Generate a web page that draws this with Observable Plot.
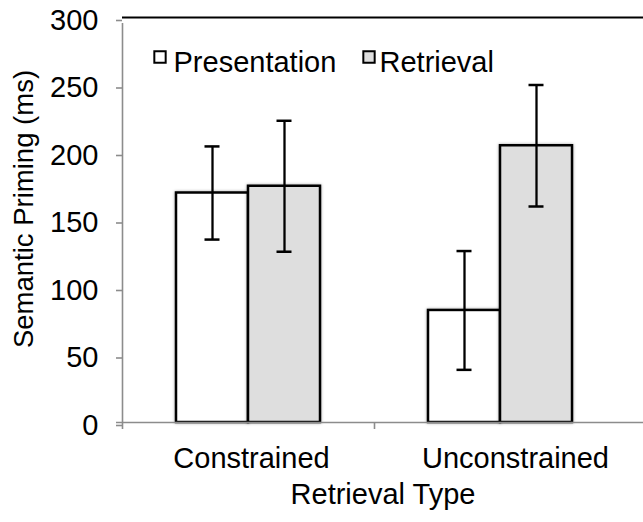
<!DOCTYPE html>
<html>
<head>
<meta charset="utf-8">
<script src="https://cdn.jsdelivr.net/npm/d3@7"></script>
<script src="https://cdn.jsdelivr.net/npm/@observablehq/plot@0.6"></script>
<style>
  html, body { margin: 0; padding: 0; background: #fff; }
  #chart svg { display: block; }
  .bars rect { filter: drop-shadow(0px 0px 1.5px rgba(0,0,0,0.35)); }
</style>
</head>
<body>
<div id="chart"></div>
<script>
// ---- data ----
const categories = ["Constrained", "Unconstrained"];
const series = ["Presentation", "Retrieval"];
const presentationMeans = [170, 83];
const retrievalMeans = [175, 205];
const presentationErr = [34.5, 44];
const retrievalErr = [48.5, 45];
const yTicks = [0, 50, 100, 150, 200, 250, 300];
const xTitle = "Retrieval Type";
const yTitle = "Semantic Priming (ms)";

const rows = [];
categories.forEach((c, i) => {
  rows.push({category: c, series: series[0], value: presentationMeans[i], err: presentationErr[i]});
  rows.push({category: c, series: series[1], value: retrievalMeans[i], err: retrievalErr[i]});
});
const pres = rows.filter(d => d.series === series[0]);
const retr = rows.filter(d => d.series === series[1]);

// ---- layout ----
const W = 643, H = 522;
const mL = 122, mT = 17, mB = 100;
const band = 252;           // category band width (px)
const barW = 72;
const outer = (band - 2 * barW) / 2;
const capW = 15;
const gray = "#8c8c8c";
const font = "Liberation Sans, Arial, Helvetica, sans-serif";
const fs = 29;

const capIn = (center) => ({insetLeft: center - capW / 2, insetRight: band - center - capW / 2});
const presCenter = outer + barW / 2, retrCenter = outer + barW * 1.5;

const chart = Plot.plot({
  width: W, height: H,
  marginLeft: mL, marginRight: 0, marginTop: mT, marginBottom: mB,
  style: {fontFamily: font, fontSize: fs + "px", color: "black", background: "white"},
  x: {type: "band", domain: categories, range: [mL, mL + band * categories.length], padding: 0},
  y: {domain: [0, 300]},
  color: {domain: series, range: ["white", "#dedede"]},
  marks: [
    // bars
    Plot.barY(pres, {x: "category", y: "value", fill: d => d.series, stroke: "black", strokeWidth: 2.5,
      insetLeft: outer, insetRight: band - outer - barW, className: "bars"}),
    Plot.barY(retr, {x: "category", y: "value", fill: d => d.series, stroke: "black", strokeWidth: 2.5,
      insetLeft: outer + barW, insetRight: outer, className: "bars"}),
    // error bars
    Plot.ruleX(pres, {x: "category", y1: d => d.value - d.err, y2: d => d.value + d.err, dx: presCenter - band / 2, stroke: "black", strokeWidth: 2.3}),
    Plot.ruleX(retr, {x: "category", y1: d => d.value - d.err, y2: d => d.value + d.err, dx: retrCenter - band / 2, stroke: "black", strokeWidth: 2.3}),
    Plot.tickY(pres, {x: "category", y: d => d.value + d.err, ...capIn(presCenter), stroke: "black", strokeWidth: 2.5}),
    Plot.tickY(pres, {x: "category", y: d => d.value - d.err, ...capIn(presCenter), stroke: "black", strokeWidth: 2.5}),
    Plot.tickY(retr, {x: "category", y: d => d.value + d.err, ...capIn(retrCenter), stroke: "black", strokeWidth: 2.5}),
    Plot.tickY(retr, {x: "category", y: d => d.value - d.err, ...capIn(retrCenter), stroke: "black", strokeWidth: 2.5}),
    // frame lines
    Plot.ruleY([300], {stroke: "black", strokeWidth: 2}),
    Plot.ruleY([0], {stroke: gray, strokeWidth: 1.6, insetLeft: -6}),
    Plot.ruleX([categories[0]], {x: d => d, dx: -band / 2, y1: 0, y2: 300, stroke: gray, strokeWidth: 1.6, insetBottom: -6}),
    // y axis
    Plot.axisY({ticks: yTicks, tickSize: 6, tickPadding: 18, stroke: gray, strokeWidth: 1.6, fill: "black",
      fontSize: fs, dy: 3, label: null}),
    // x axis ticks at band edges
    Plot.axisX({ticks: categories, tickSize: 7, dx: -band / 2, tickFormat: () => "", stroke: gray, strokeWidth: 1.6, label: null}),
    // x category labels
    Plot.text([categories[0]], {x: d => d, frameAnchor: "bottom", lineAnchor: "bottom", dy: 45, dx: 3, fontSize: fs, fill: "black"}),
    Plot.text([categories[1]], {x: d => d, frameAnchor: "bottom", lineAnchor: "bottom", dy: 45, dx: 15, fontSize: fs, fill: "black"}),
    // axis titles
    Plot.text([xTitle], {frameAnchor: "bottom", lineAnchor: "bottom", dy: 81, fontSize: fs, fill: "black"}),
    Plot.text([yTitle], {frameAnchor: "left", textAnchor: "middle", lineAnchor: "middle", rotate: -90, dx: -98, dy: -11, fontSize: 27.5, fill: "black"}),
    // legend
    Plot.dot([series[0]], {x: null, y: null, frameAnchor: "top-left", dx: 37.5, dy: 39.5, symbol: "square", r: 6.4,
      fill: "white", stroke: "black", strokeWidth: 2}),
    Plot.text([series[0]], {frameAnchor: "top-left", textAnchor: "start", lineAnchor: "bottom", dx: 51, dy: 54, fontSize: fs, fill: "black"}),
    Plot.dot([series[1]], {x: null, y: null, frameAnchor: "top-left", dx: 246.5, dy: 39.5, symbol: "square", r: 6.4,
      fill: "#dedede", stroke: "black", strokeWidth: 2}),
    Plot.text([series[1]], {frameAnchor: "top-left", textAnchor: "start", lineAnchor: "bottom", dx: 257, dy: 54, fontSize: fs, fill: "black"})
  ]
});
document.getElementById("chart").appendChild(chart);
</script>
</body>
</html>
